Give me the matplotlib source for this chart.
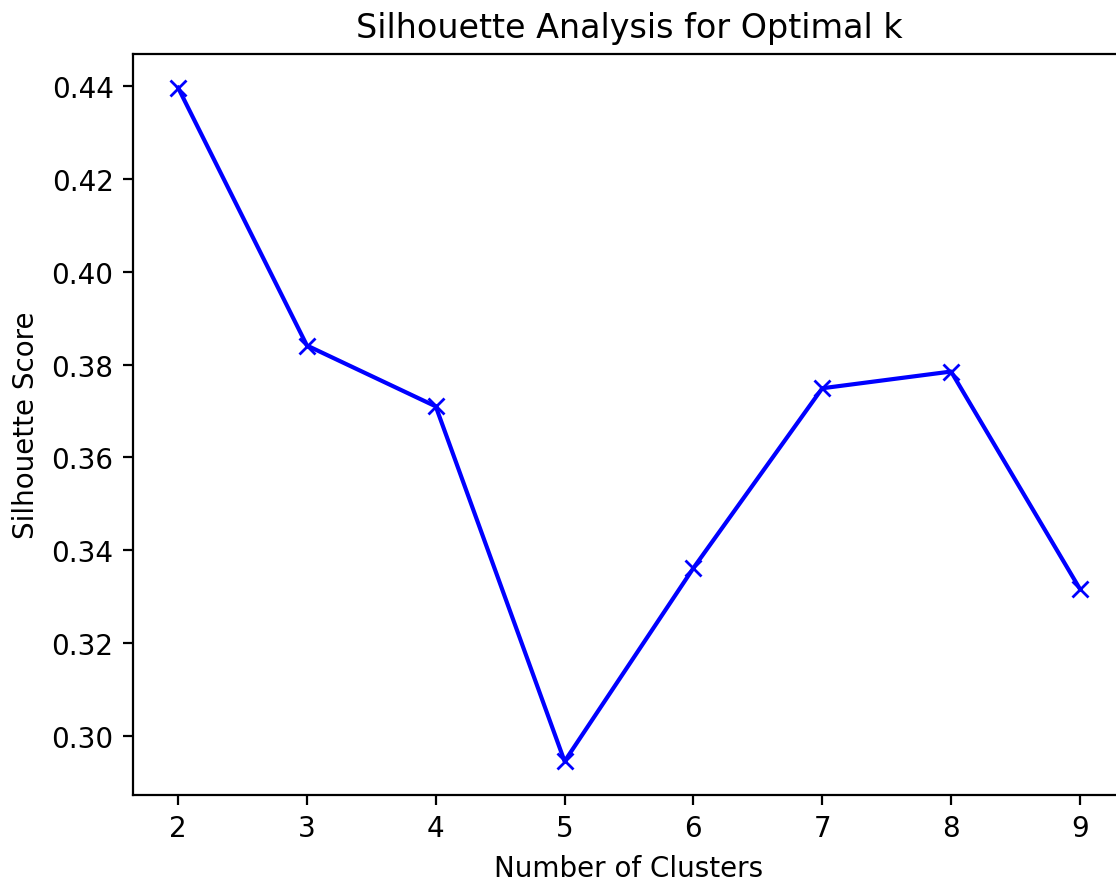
import matplotlib
matplotlib.use("Agg")
import matplotlib.pyplot as plt

# Silhouette scores for each candidate number of clusters
cluster_counts = [2, 3, 4, 5, 6, 7, 8, 9]
silhouette_scores = [0.4396, 0.3841, 0.3710, 0.2946, 0.3362, 0.3749, 0.3785, 0.3317]

DPI = 200
fig = plt.figure(figsize=(1116 / DPI, 879 / DPI), dpi=DPI)
ax = fig.add_axes([133 / 1116, (879 - 796) / 879, (1125 - 133) / 1116, (796 - 55) / 879])

ax.plot(cluster_counts, silhouette_scores, "bx-")
ax.set_xlabel("Number of Clusters")
ax.set_ylabel("Silhouette Score")
ax.set_title("Silhouette Analysis for Optimal k")

fig.savefig("out.png", dpi=DPI)
